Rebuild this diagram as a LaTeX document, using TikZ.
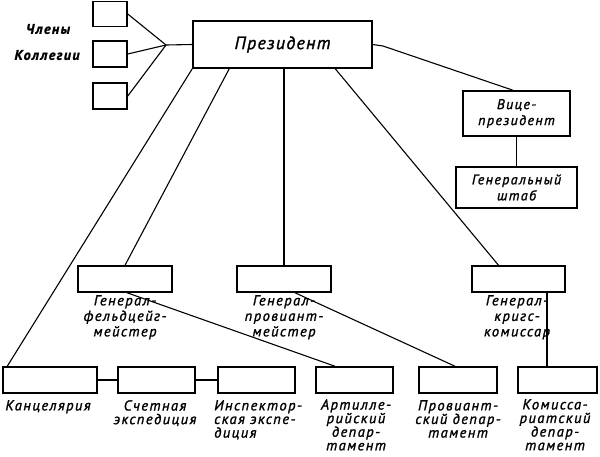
\documentclass[tikz,border=0pt]{standalone}
\usepackage{fontspec}
\setmainfont{PT Sans}
\newfontfamily\lf[LetterSpace=10,FakeBold=1.4]{PT Sans}
\newfontfamily\lfw[LetterSpace=7,FakeBold=1.4]{PT Sans}
\usetikzlibrary{calc}
\tikzset{
  bx/.style={draw, line width=1.5pt, inner sep=0pt, minimum height=26pt},
  ln/.style={line width=1.1pt},
  lbl/.style={font=\lf\itshape\fontsize{14.5}{15.5}\selectfont, inner sep=0pt, align=center, anchor=north},
  blbl/.style={font=\lf\itshape\fontsize{14.5}{13.6}\selectfont, inner sep=0pt, align=center, anchor=north},
  side/.style={font=\lf\bfseries\itshape\fontsize{14}{14}\selectfont, inner sep=0pt},
}
\begin{document}
\begin{tikzpicture}[x=1pt,y=-1pt]
\path[use as bounding box] (0,0) rectangle (600,456);
% members of the collegium
\node[bx, minimum width=34pt, minimum height=25pt] (m1) at (110,14) {};
\node[bx, minimum width=34pt, minimum height=26pt] (m2) at (110,54) {};
\node[bx, minimum width=34pt, minimum height=26pt] (m3) at (110,96) {};
\node[side] (t1) at (48,29) {Члены};
\node[side] (t2) at (47,55) {Коллегии};
% top
\node[bx, minimum width=179pt, minimum height=47pt, font=\lfw\itshape\fontsize{18}{20}\selectfont] (pres) at (282.5,44.5) {Президент};
\node[bx, minimum width=107pt, minimum height=45pt, font=\lf\itshape\fontsize{14}{16}\selectfont, align=center] (vice) at (516.5,113.5) {Вице-\\президент};
\node[bx, minimum width=121pt, minimum height=41pt, font=\lf\itshape\fontsize{14}{16}\selectfont, align=center] (gs) at (516.5,187.5) {Генеральный\\штаб};
% middle row
\node[bx, minimum width=94pt] (fz) at (125,279) {};
\node[bx, minimum width=94pt] (pm) at (284,279) {};
\node[bx, minimum width=93pt] (kk) at (518.5,279) {};
\node[lbl] (fzl) at (125,295) {Генерал-\\фельдцейг-\\мейстер};
\node[lbl] (pml) at (284,295) {Генерал-\\провиант-\\мейстер};
\node[lbl] (kkl) at (517,295) {Генерал-\\кригс-\\комиссар};
% bottom row
\node[bx, minimum width=94pt] (kan) at (50,380) {};
\node[bx, minimum width=77pt] (sch) at (156.5,380) {};
\node[bx, minimum width=77pt] (ins) at (256.5,380) {};
\node[bx, minimum width=77pt] (art) at (354.5,380) {};
\node[bx, minimum width=78pt] (prov) at (458,380) {};
\node[bx, minimum width=79pt] (kom) at (557.5,380) {};
\node[blbl] (kanl) at (48,400) {Канцелярия};
\node[blbl] (schl) at (155,400) {Счетная\\экспедиция};
\node[blbl, anchor=north west, align=left] (insl) at (214,400) {Инспектор-\\ская экспе-\\диция};
\node[blbl] (artl) at (356,399) {Артилле-\\рийский\\депар-\\тамент};
\node[blbl] (provl) at (458,400) {Провиант-\\ский депар-\\тамент};
\node[blbl] (koml) at (555,399) {Комисса-\\риатский\\депар-\\тамент};
% connectors
\coordinate (fan) at (166,45);
\draw[ln] (m1.east) -- (fan);
\draw[ln] (m2.east) -- (fan);
\draw[ln] (m3.east) -- (fan);
\draw[ln] (fan) -- (pres.west);
\coordinate (vbend) at (383,46);
\draw[ln] (pres.east) -- (vbend) -- ([xshift=-3.5pt]vice.north);
\draw[ln] (vice.south) -- (gs.north);
\draw[ln] (pres.south west) -- ([xshift=5pt]kan.north west);
\draw[ln] ([xshift=37pt]pres.south west) -- (fz.north);
\draw[ln] (pres.south -| pm.north) -- (pm.north);
\draw[ln] ([xshift=143pt]pres.south west) -- ([xshift=-20pt]kk.north);
\draw[ln] ([xshift=2pt]fz.south) -- ([xshift=-19.5pt]art.north);
\draw[ln] ([xshift=11pt]pm.south) -- ([xshift=-3pt]prov.north);
\draw[ln] ([xshift=28.5pt]kk.south) -- ([xshift=28.5pt]kk.south |- kom.north);
\draw[ln] (kan.east) -- (sch.west);
\draw[ln] (sch.east) -- (ins.west);
\end{tikzpicture}
\end{document}
